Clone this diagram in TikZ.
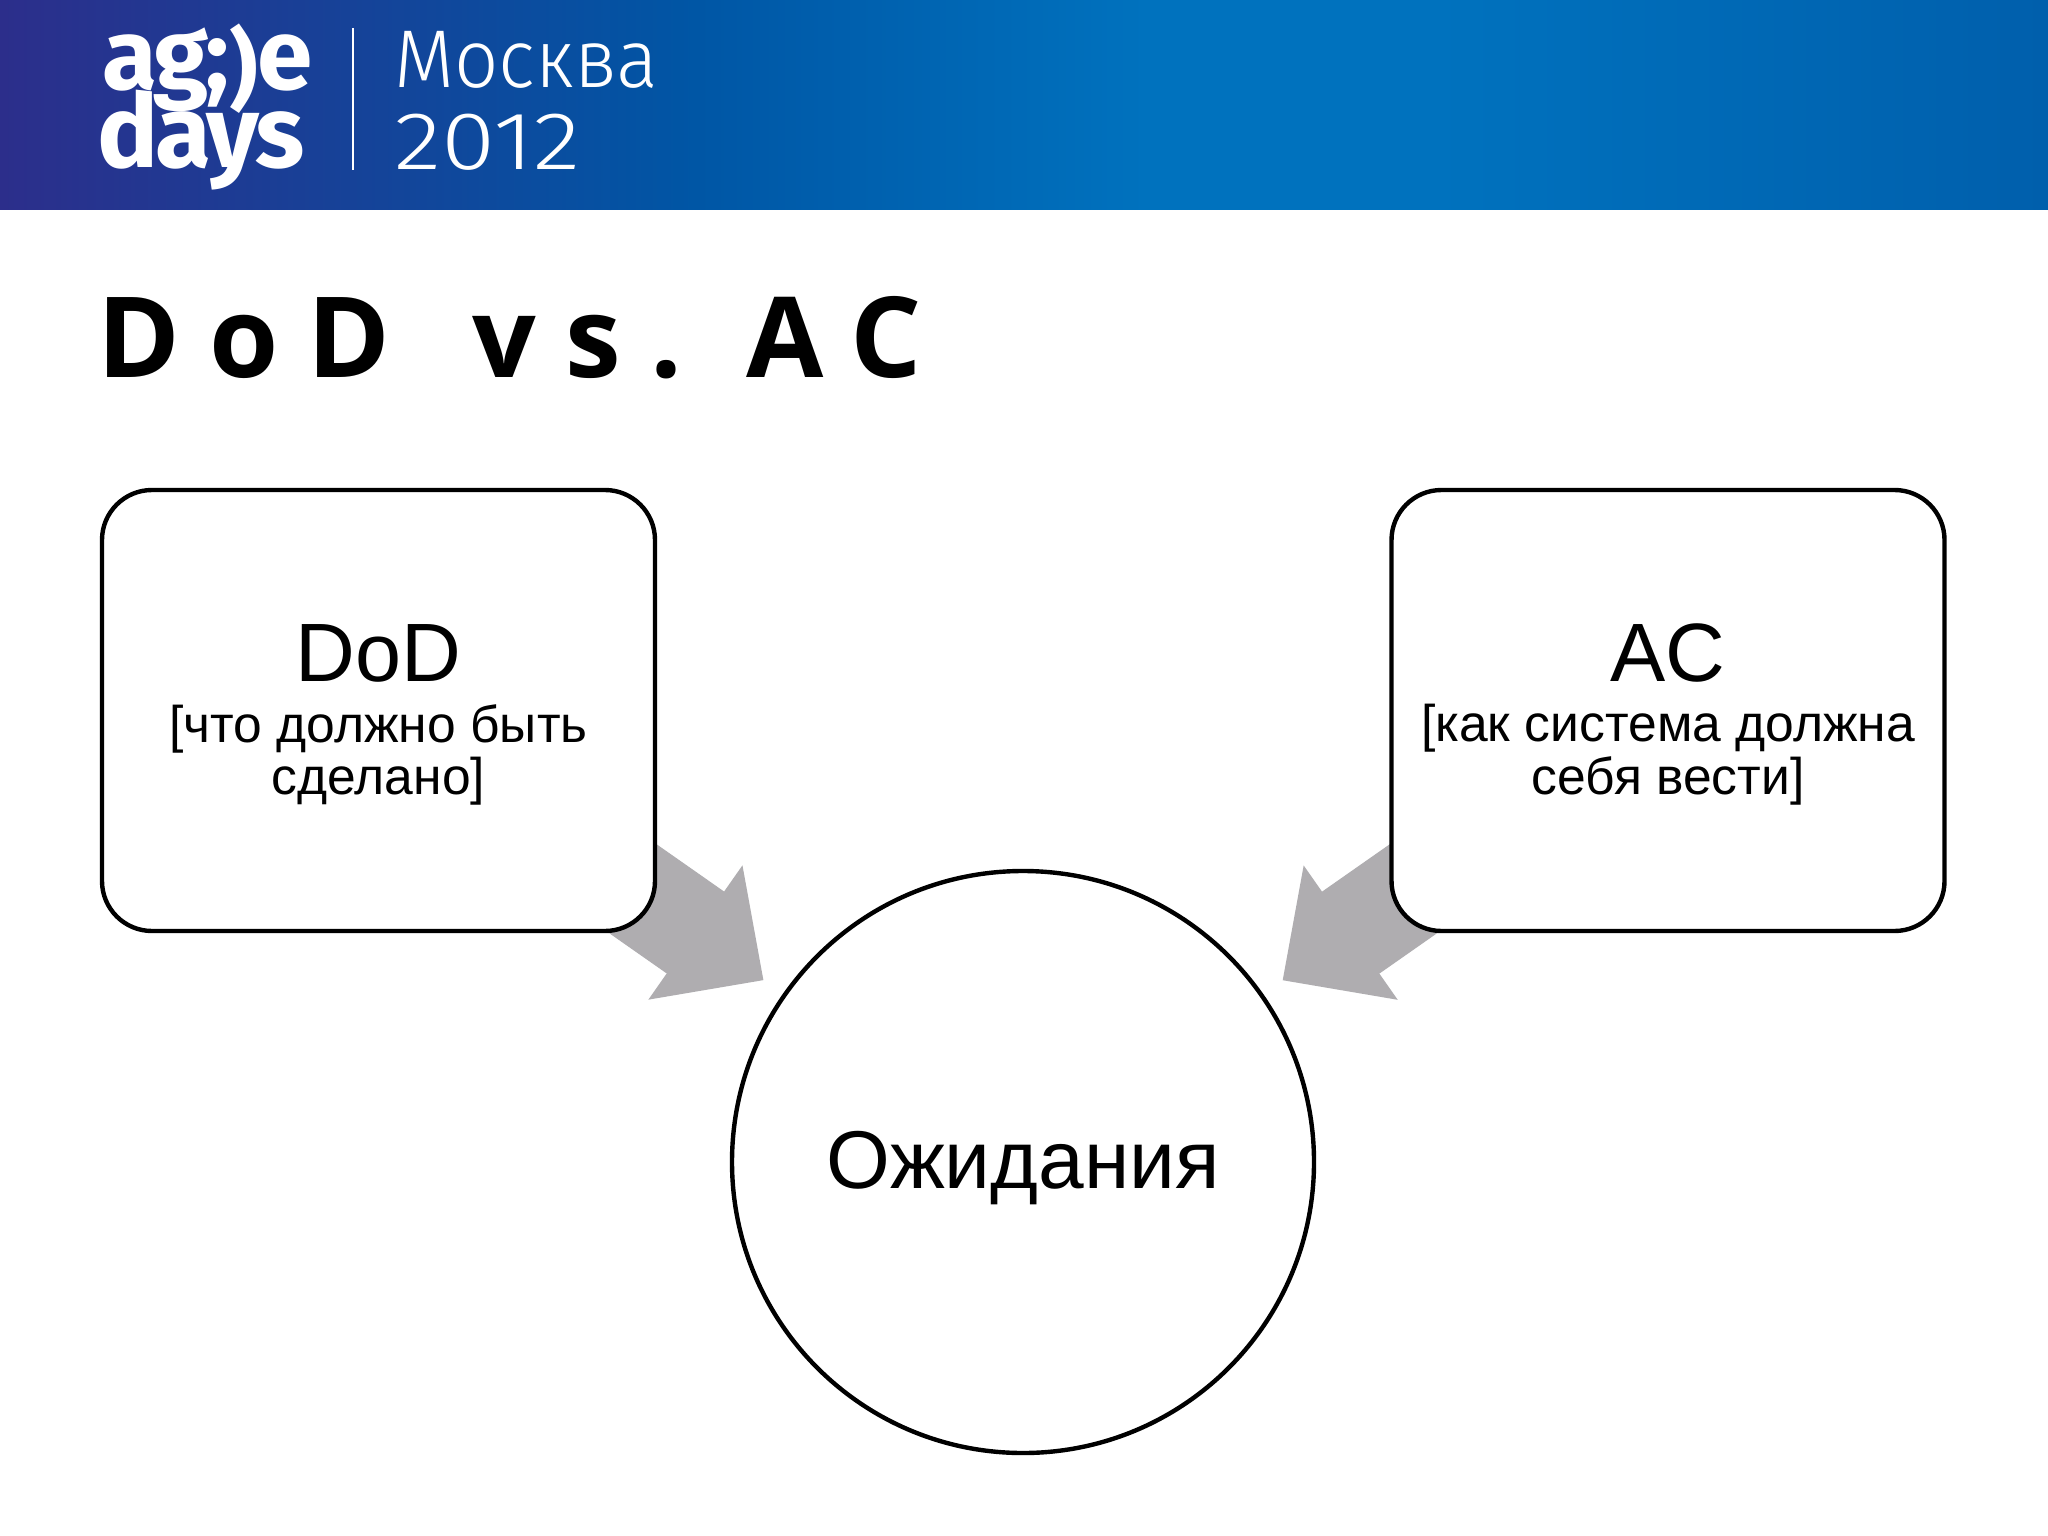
\documentclass[tikz,border=0pt]{standalone}
\usepackage{fontspec}
\usepackage{graphicx}
\usetikzlibrary{arrows.meta,backgrounds}
\setmainfont{Liberation Sans}
\newfontfamily\titlefont[LetterSpace=26]{Open Sans Bold}
\newfontfamily\logofont[LetterSpace=-3]{Fira Sans Bold}
\newfontfamily\cityfont{Fira Sans Light}
\definecolor{arrowgray}{HTML}{AFADB0}
\definecolor{bannerA}{HTML}{2C2E8B}
\definecolor{bannerB}{HTML}{0056A5}
\definecolor{bannerC}{HTML}{0072BE}
\definecolor{bannerD}{HTML}{005FAC}
\pgfdeclarehorizontalshading{bannershade}{100bp}{
  color(0bp)=(bannerA); color(25bp)=(bannerA); color(42bp)=(bannerB);
  color(53bp)=(bannerC); color(60bp)=(bannerC); color(75bp)=(bannerD); color(100bp)=(bannerD)}
\tikzset{
  x=0.5pt,y=-0.5pt,
  outline/.style={draw=black,line width=2.2pt,fill=white,inner sep=0pt,align=center,text=black},
  roundbox/.style={outline,rectangle,rounded corners=25pt,minimum width=276.5pt,minimum height=220.5pt},
  bigcircle/.style={outline,circle,minimum size=291pt},
  fatarrow/.style={draw=arrowgray,line width=50pt,
    -{Triangle[length=41.5pt,width=82pt,line width=0pt,fill=arrowgray]},
    shorten <=0pt,shorten >=158.5pt,
    postaction={draw=arrowgray,line width=49.4pt,arrows=-,shorten >=192pt}},
  white text/.style={text=white,inner sep=0pt,anchor=base west},
}
\newcommand{\headfont}{\fontsize{41.4}{46}\selectfont}
\newcommand{\subfont}{\fontsize{25.8}{26}\selectfont}
\begin{document}
\begin{tikzpicture}
\useasboundingbox (0,0) rectangle (2048,1535);
\path[shading=bannershade] (0,0) rectangle (2048,210);
% logo
\node[white text] (agile) at (102,90) {\logofont\fontsize{50}{50}\selectfont ag;\raisebox{-5pt}{\scalebox{.88}{)}}e};
\node[white text] (days) at (97,168) {\logofont\fontsize{51}{51}\selectfont days};
\coordinate (septop) at (353,28);
\coordinate (sepbot) at (353,170);
\draw[white,line width=1.4pt] (septop) -- (sepbot);
\node[white text] (city) at (394,88) {\scalebox{.95}[1]{\cityfont\fontsize{41}{41}\selectfont Москва}};
\node[white text] (year) at (394,170) {\scalebox{1.2}[1]{\cityfont\fontsize{41}{41}\selectfont 2012}};
% title
\node[inner sep=0pt,anchor=base west] (title) at (97,377) {\titlefont\fontsize{56}{56}\selectfont DoD\hspace{12pt} vs.\hspace{-7pt} AC};
% diagram
\node[roundbox] (dod) at (378.5,710.5) {{\headfont\rule{0pt}{32.9pt}DoD}\\[9.9pt]{\subfont [что должно быть}\\[1.2pt]{\subfont сделано]}};
\node[roundbox] (ac) at (1668,710.5) {{\headfont\rule{0pt}{32.9pt}AC}\\[9.9pt]{\subfont [как система должна}\\[1.2pt]{\subfont себя вести]}};
\node[bigcircle] (exp) at (1023,1162) {\raisebox{-13pt}[0pt][0pt]{\fontsize{41}{44}\selectfont Ожидания}};
\begin{scope}[on background layer]
\fill[white] (0,210) rectangle (2048,1535);
\draw[fatarrow] (dod.center) -- (exp.center);
\draw[fatarrow] (ac.center) -- (exp.center);
\end{scope}
\end{tikzpicture}
\end{document}
